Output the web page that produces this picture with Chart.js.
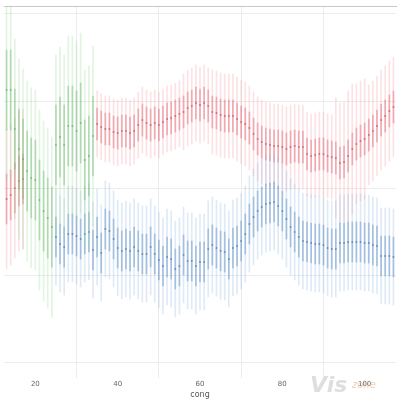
<!DOCTYPE html>
<html><head><meta charset="utf-8">
<script src="https://cdn.jsdelivr.net/npm/chart.js@4/dist/chart.umd.min.js"></script>
<style>html,body{margin:0;padding:0;background:#fff}#w{width:400px;height:400px}</style>
</head><body><div id="w"><canvas id="c"></canvas></div>
<script>
// x values (cong)
const redLeftX = [13,14,15,16,17];
const redLeftMean = [163,167,174,181,183];
const redX = Array.from({length:74},(_,i)=>35+i); // cong = 35..108
const redMean = [238,235,233,233,230,229,231,231,229,231,237,242,239,237,239,237,240,243,244,246,
 248,250,254,256,259,257,259,256,250,249,247,246,246,246,243,240,238,234,228,223,
 220,218,217,216,216,215,213,215,216,215,215,208,206,207,208,208,206,205,204,199,
 200,206,213,218,221,223,227,231,236,242,246,251,255,260];
const redOuter = [33,33,33,33,33,33,33,33,33,33,33,33,33,33,33,33,33,33,33,33,
 33,38,38,38,38,38,38,38,42,42,42,42,42,42,42,42,42,42,42,42,
 42,42,42,42,42,42,42,42,42,42,42,42,42,42,42,42,42,42,60,60,
 60,65,65,60,60,60,50,50,50,50,50,50,50,50];
const redInner = 16;
const greenX = [13,14,15,16,17,18,19,20,21,22,23,24,25,26,27,28,29,30,31,32,33,34];
const greenMean = [272,272,233,213,203,191,184,182,162,151,144,135,217,225,217,236,236,231,239,202,206,226];
const greenOuter = 90, greenInner = 40;
const blueX = Array.from({length:83},(_,i)=>25+i); // cong = 25..107
const blueMean = [125,118,115,128,128,126,123,128,130,112,125,109,133,131,123,114,111,113,111,115,
 111,108,108,115,108,102,96,105,103,93,96,107,101,101,96,100,100,113,117,114,
 111,110,103,114,116,121,128,138,145,151,155,158,159,160,156,151,143,135,130,125,
 121,120,119,118,118,117,114,113,113,119,119,120,120,120,120,119,119,117,116,106,
 106,106,105];
const blueOuter = 48, blueInner = 20;
const xTicks = [20,40,60,80,100];

function bars(xs, m, hw){ return xs.map((x,i)=>({x, y:[m[i]-(Array.isArray(hw)?hw[i]:hw), m[i]+(Array.isArray(hw)?hw[i]:hw)]})); }
function pts(xs, m){ return xs.map((x,i)=>({x, y:m[i]})); }
function barDs(data,color){ return {type:'bar',data,backgroundColor:color,barThickness:1,grouped:false,borderWidth:0}; }
function ptDs(data,color){ return {type:'scatter',data,pointRadius:0.9,pointBackgroundColor:color,pointBorderWidth:0,showLine:false}; }

const datasets = [
 barDs(bars(greenX,greenMean,greenOuter),'rgba(150,215,150,0.28)'),
 barDs(bars(greenX,greenMean,greenInner),'rgba(100,175,100,0.45)'),
 ptDs(pts(greenX,greenMean),'rgba(70,140,70,0.7)'),
 barDs(bars(blueX,blueMean,blueOuter),'rgba(140,180,225,0.28)'),
 barDs(bars(blueX,blueMean,blueInner),'rgba(70,125,185,0.45)'),
 ptDs(pts(blueX,blueMean),'rgba(40,90,150,0.75)'),
 barDs(bars(redLeftX,redLeftMean,70),'rgba(245,150,160,0.28)'),
 barDs(bars(redLeftX,redLeftMean,25),'rgba(220,80,90,0.45)'),
 ptDs(pts(redLeftX,redLeftMean),'rgba(180,40,50,0.75)'),
 barDs(bars(redX,redMean,redOuter),'rgba(245,150,160,0.28)'),
 barDs(bars(redX,redMean,redInner),'rgba(220,80,90,0.45)'),
 ptDs(pts(redX,redMean),'rgba(180,40,50,0.75)')
];

new Chart(document.getElementById('c'),{
 type:'bar',
 data:{datasets},
 options:{
  responsive:true,maintainAspectRatio:false,animation:false,
  layout:{padding:{top:6,left:0,right:0,bottom:0}},
  plugins:{legend:{display:false},tooltip:{enabled:false}},
  scales:{
   x:{type:'linear',min:12.381,max:107.619,offset:false,
      afterBuildTicks:s=>{s.ticks=xTicks.map(v=>({value:v}));},
      grid:{color:'#ececec',drawTicks:false,lineWidth:1},
      border:{display:false},
      ticks:{color:'#666',font:{size:7,family:'DejaVu Sans'},padding:2},
      title:{display:true,text:'cong',color:'#555',font:{size:8,family:'DejaVu Sans'},padding:{top:0,bottom:0}}},
   xTop:{type:'linear',position:'top',min:12.381,max:107.619,
      grid:{display:false,drawTicks:false},ticks:{display:false},
      border:{display:true,color:'#c8c8c8',width:1}},
   y:{type:'linear',min:-16,max:356,
      ticks:{display:false,includeBounds:false},
      afterBuildTicks:s=>{s.ticks=[0,87,174,261,348].map(v=>({value:v}));},
      grid:{color:'#ececec',drawTicks:false},border:{display:false}}
  }
 },
 plugins:[{id:'wm',afterDraw(ch){const c=ch.ctx;c.save();c.fillStyle='rgba(200,200,200,0.6)';c.font='bold italic 22px DejaVu Sans';c.fillText('Vis',310,392);c.font='italic 10px DejaVu Sans';c.fillStyle='rgba(230,190,150,0.7)';c.fillText('zone',352,388);c.restore();}}]
});
</script></body></html>
